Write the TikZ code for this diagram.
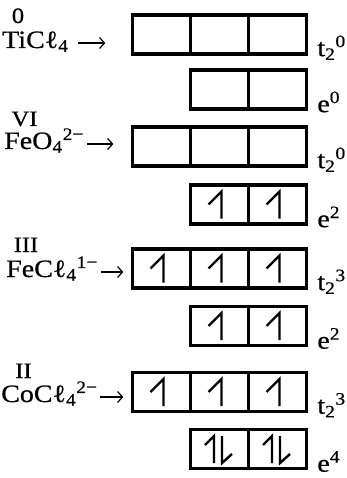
\documentclass[tikz,border=0pt]{standalone}
\usepackage{fontspec}
\setmainfont{Liberation Serif}[FakeStretch=1.12,FakeBold=0.6]
\usetikzlibrary{arrows.meta,calc}

\begin{document}
\begin{tikzpicture}[x=1pt,y=-1pt,
    cell/.style={draw,line width=3.3pt,minimum width=58pt,minimum height=39pt,inner sep=0pt},
    lbl/.style={inner sep=0pt,font=\fontsize{25}{27}\selectfont},
    ox/.style={inner sep=0pt,anchor=base,font=\fontsize{22}{24}\selectfont},
    spin/.style={line width=2.4pt},
    arr/.style={line width=1.2pt,-{Straight Barb[length=5pt,width=11pt]}}]
  \useasboundingbox (0,0) rectangle (347,478);
  % t2 rows and e rows
  \foreach \r/\y in {1/34.5,3/146.5,5/268.5,7/392}
    \foreach \c/\x in {a/161.5,b/219.5,c/277.5}
      \node[cell] (t\r-\c) at (\x,\y) {};
  \foreach \r/\y in {2/89.5,4/204.5,6/326,8/449}
    \foreach \c/\x in {b/219.5,c/277.5}
      \node[cell] (e\r-\c) at (\x,\y) {};
  \foreach \r/\n in {1/0,3/0,5/3,7/3}
    \node[lbl,anchor=base west] (lt\r) at ([shift={(9,0.5)}]t\r-c.south east)
      {t\textsubscript{2}\textsuperscript{\n}};
  \foreach \r/\n in {2/0,4/2,6/2,8/4}
    \node[lbl,anchor=base west] (le\r) at ([shift={(9,1.5)}]e\r-c.south east)
      {e\textsuperscript{\n}};
  % electrons
  \foreach \n in {t5-a,t5-b,t5-c,t7-a,t7-b,t7-c,e4-b,e4-c,e6-b,e6-c}
    \draw[spin] ([shift={(-11,0)}]\n.center) -- ([shift={(2,-13)}]\n.center)
      -- ([shift={(2,14)}]\n.center);
  \foreach \n in {e8-b,e8-c}{
    \draw[spin] ([shift={(-14.5,-4)}]\n.center) -- ([shift={(-5.5,-13)}]\n.center)
      -- ([shift={(-5.5,14)}]\n.center);
    \draw[spin] ([shift={(12.5,5)}]\n.center) -- ([shift={(2.5,14)}]\n.center)
      -- ([shift={(2.5,-13)}]\n.center);
  }
  % complexes
  \node[ox] (ox-ti) at (18,23) {0};
  \node[lbl,anchor=base west] (ti) at (2,48) {TiCℓ\textsubscript{4}};
  \node[ox] (ox-feo) at (24.5,126) {VI};
  \node[lbl,anchor=base west] (feo) at (4,149) {FeO\textsubscript{4}\textsuperscript{2−}};
  \node[ox] (ox-fecl) at (26,252) {III};
  \node[lbl,anchor=base west] (fecl) at (6,277) {FeCℓ\textsubscript{4}\textsuperscript{1−}};
  \node[ox] (ox-cocl) at (23.5,378) {II};
  \node[lbl,anchor=base west] (cocl) at (1,402) {CoCℓ\textsubscript{4}\textsuperscript{2−}};
  \draw[arr] ([shift={(9,-5)}]ti.base east) -- ($(ti.base east -| t1-a.west)+(-25.5,-5)$);
  \draw[arr] ([shift={(3,-5)}]feo.base east) -- ($(feo.base east -| t3-a.west)+(-17.5,-5)$);
  \draw[arr] ([shift={(3,-5)}]fecl.base east) -- ($(fecl.base east -| t5-a.west)+(-7.5,-5)$);
  \draw[arr] ([shift={(2,-5)}]cocl.base east) -- ($(cocl.base east -| t7-a.west)+(-7.5,-5)$);
\end{tikzpicture}
\end{document}
